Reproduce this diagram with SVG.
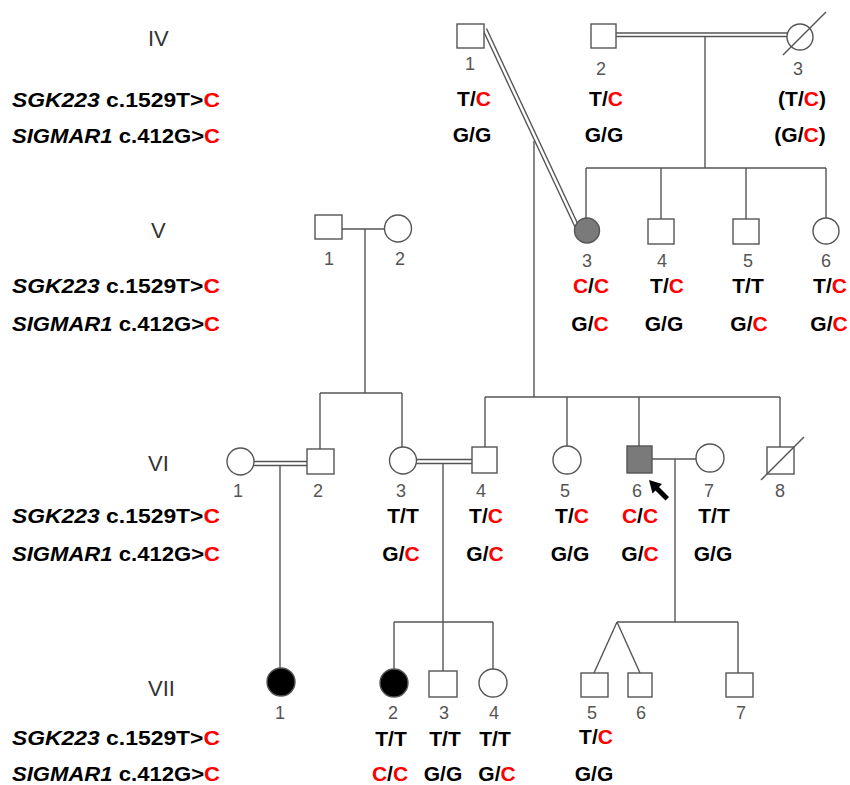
<svg xmlns="http://www.w3.org/2000/svg" width="850" height="785" viewBox="0 0 850 785">
<style>
.ln{stroke:#555;stroke-width:1.4;fill:none}
.sh{stroke:#555;stroke-width:1.4;fill:#fff}
.aff{fill:#7a7a7a}
.blk{fill:#000}
.gen{font-family:"Liberation Sans",Arial,sans-serif;font-size:22px;fill:#333}
.num{font-family:"Liberation Sans",Arial,sans-serif;font-size:18px;fill:#555;text-anchor:middle}
.gt{font-family:"Liberation Sans",Arial,sans-serif;font-size:21px;font-weight:bold;fill:#000;text-anchor:middle}
.lab{font-family:"Liberation Sans",Arial,sans-serif;font-size:21px;font-weight:bold;fill:#000}
.r{fill:#f00}
</style>
<rect width="850" height="785" fill="#fff"/>
<g id="connectors">
<line class="ln" x1="616" y1="33" x2="787" y2="33"/>
<line class="ln" x1="616" y1="36.5" x2="787" y2="36.5"/>
<line class="ln" x1="705" y1="36.5" x2="705" y2="168"/>
<line class="ln" x1="586" y1="168" x2="826" y2="168"/>
<line class="ln" x1="586" y1="168" x2="586" y2="218"/>
<line class="ln" x1="661" y1="168" x2="661" y2="219"/>
<line class="ln" x1="746" y1="168" x2="746" y2="219"/>
<line class="ln" x1="826" y1="168" x2="826" y2="218"/>
<line class="ln" x1="483" y1="30" x2="575" y2="227"/>
<line class="ln" x1="486.5" y1="28.5" x2="578.5" y2="225.5"/>
<line class="ln" x1="534" y1="141" x2="534" y2="397"/>
<line class="ln" x1="485" y1="397" x2="780" y2="397"/>
<line class="ln" x1="485" y1="397" x2="485" y2="447"/>
<line class="ln" x1="567" y1="397" x2="567" y2="446"/>
<line class="ln" x1="639" y1="397" x2="639" y2="446"/>
<line class="ln" x1="780" y1="397" x2="780" y2="447"/>
<line class="ln" x1="342" y1="229" x2="384.5" y2="229"/>
<line class="ln" x1="365" y1="229" x2="365" y2="393"/>
<line class="ln" x1="320" y1="393" x2="402" y2="393"/>
<line class="ln" x1="320" y1="393" x2="320" y2="449"/>
<line class="ln" x1="402" y1="393" x2="402" y2="447"/>
<line class="ln" x1="254" y1="461.5" x2="307" y2="461.5"/>
<line class="ln" x1="254" y1="465.5" x2="307" y2="465.5"/>
<line class="ln" x1="280" y1="465.5" x2="280" y2="668"/>
<line class="ln" x1="416.5" y1="459.5" x2="472" y2="459.5"/>
<line class="ln" x1="416.5" y1="463.5" x2="472" y2="463.5"/>
<line class="ln" x1="443" y1="463.5" x2="443" y2="622"/>
<line class="ln" x1="394" y1="622" x2="493" y2="622"/>
<line class="ln" x1="394" y1="622" x2="394" y2="669"/>
<line class="ln" x1="443" y1="622" x2="443" y2="671"/>
<line class="ln" x1="493" y1="622" x2="493" y2="669"/>
<line class="ln" x1="652" y1="459" x2="696" y2="459"/>
<line class="ln" x1="675" y1="459" x2="675" y2="622"/>
<line class="ln" x1="617" y1="622" x2="738" y2="622"/>
<line class="ln" x1="617" y1="622" x2="594" y2="673"/>
<line class="ln" x1="617" y1="622" x2="640" y2="673"/>
<line class="ln" x1="738" y1="622" x2="738" y2="673"/>
</g>
<g id="gen-labels">
<text class="gen" x="148" y="46">IV</text>
<text class="gen" x="151" y="238">V</text>
<text class="gen" x="148" y="471">VI</text>
<text class="gen" x="148" y="696">VII</text>
</g>
<g id="locus-labels">
<text class="lab" x="12" y="107" textLength="208" lengthAdjust="spacingAndGlyphs"><tspan font-style="italic">SGK223</tspan> c.1529T&gt;<tspan class="r">C</tspan></text>
<text class="lab" x="12" y="143" textLength="208" lengthAdjust="spacingAndGlyphs"><tspan font-style="italic">SIGMAR1</tspan> c.412G&gt;<tspan class="r">C</tspan></text>
<text class="lab" x="12" y="293" textLength="208" lengthAdjust="spacingAndGlyphs"><tspan font-style="italic">SGK223</tspan> c.1529T&gt;<tspan class="r">C</tspan></text>
<text class="lab" x="12" y="331" textLength="208" lengthAdjust="spacingAndGlyphs"><tspan font-style="italic">SIGMAR1</tspan> c.412G&gt;<tspan class="r">C</tspan></text>
<text class="lab" x="12" y="523" textLength="208" lengthAdjust="spacingAndGlyphs"><tspan font-style="italic">SGK223</tspan> c.1529T&gt;<tspan class="r">C</tspan></text>
<text class="lab" x="12" y="561" textLength="208" lengthAdjust="spacingAndGlyphs"><tspan font-style="italic">SIGMAR1</tspan> c.412G&gt;<tspan class="r">C</tspan></text>
<text class="lab" x="12" y="745" textLength="208" lengthAdjust="spacingAndGlyphs"><tspan font-style="italic">SGK223</tspan> c.1529T&gt;<tspan class="r">C</tspan></text>
<text class="lab" x="12" y="781" textLength="208" lengthAdjust="spacingAndGlyphs"><tspan font-style="italic">SIGMAR1</tspan> c.412G&gt;<tspan class="r">C</tspan></text>
</g>
<g id="IV-1"><rect class="sh" x="457" y="24" width="27" height="24"/><text class="num" x="470" y="70">1</text><text class="gt" x="474" y="106">T/<tspan class="r">C</tspan></text><text class="gt" x="472" y="142">G/G</text></g>
<g id="IV-2"><rect class="sh" x="591" y="24" width="25" height="24"/><text class="num" x="601" y="75">2</text><text class="gt" x="606" y="106">T/<tspan class="r">C</tspan></text><text class="gt" x="604" y="142">G/G</text></g>
<g id="IV-3"><circle class="sh" cx="800" cy="37" r="13"/><line class="ln" x1="783" y1="55" x2="826" y2="12"/><text class="num" x="798" y="75">3</text><text class="gt" x="802" y="106">(T/<tspan class="r">C</tspan>)</text><text class="gt" x="800" y="142">(G/<tspan class="r">C</tspan>)</text></g>
<g id="V-1"><rect class="sh" x="315" y="215" width="27" height="24"/><text class="num" x="329" y="265">1</text></g>
<g id="V-2"><circle class="sh" cx="398" cy="228.5" r="13.5"/><text class="num" x="400" y="265">2</text></g>
<g id="V-3"><circle class="sh aff" cx="587" cy="230.5" r="12.5"/><text class="num" x="587" y="267">3</text><text class="gt" x="591" y="293"><tspan class="r">C</tspan>/<tspan class="r">C</tspan></text><text class="gt" x="590" y="331">G/<tspan class="r">C</tspan></text></g>
<g id="V-4"><rect class="sh" x="648" y="219" width="26" height="25"/><text class="num" x="662" y="267">4</text><text class="gt" x="667" y="293">T/<tspan class="r">C</tspan></text><text class="gt" x="664" y="331">G/G</text></g>
<g id="V-5"><rect class="sh" x="733" y="219" width="26" height="25"/><text class="num" x="748" y="267">5</text><text class="gt" x="748" y="293">T/T</text><text class="gt" x="749" y="331">G/<tspan class="r">C</tspan></text></g>
<g id="V-6"><circle class="sh" cx="826" cy="231" r="13"/><text class="num" x="826" y="267">6</text><text class="gt" x="830" y="293">T/<tspan class="r">C</tspan></text><text class="gt" x="829" y="331">G/<tspan class="r">C</tspan></text></g>
<g id="VI-1"><circle class="sh" cx="240.5" cy="461.5" r="13.5"/><text class="num" x="238" y="497">1</text></g>
<g id="VI-2"><rect class="sh" x="307" y="449" width="27" height="25"/><text class="num" x="318" y="497">2</text></g>
<g id="VI-3"><circle class="sh" cx="403" cy="460.5" r="13.5"/><text class="num" x="401" y="497">3</text><text class="gt" x="403" y="523">T/T</text><text class="gt" x="401" y="561">G/<tspan class="r">C</tspan></text></g>
<g id="VI-4"><rect class="sh" x="472" y="447" width="25" height="26"/><text class="num" x="481" y="497">4</text><text class="gt" x="486" y="523">T/<tspan class="r">C</tspan></text><text class="gt" x="485" y="561">G/<tspan class="r">C</tspan></text></g>
<g id="VI-5"><circle class="sh" cx="567" cy="460" r="14"/><text class="num" x="565" y="497">5</text><text class="gt" x="572" y="523">T/<tspan class="r">C</tspan></text><text class="gt" x="570" y="561">G/G</text></g>
<g id="VI-6"><rect class="sh aff" x="627" y="446" width="25" height="27"/><text class="num" x="637" y="497">6</text><polygon class="blk" points="649,480 662,484 659,487 669,497 665.5,500.5 655.5,490.5 652.5,493.5"/><text class="gt" x="640" y="523"><tspan class="r">C</tspan>/<tspan class="r">C</tspan></text><text class="gt" x="640" y="561">G/<tspan class="r">C</tspan></text></g>
<g id="VI-7"><circle class="sh" cx="710" cy="458" r="14"/><text class="num" x="709" y="497">7</text><text class="gt" x="714" y="523">T/T</text><text class="gt" x="713" y="561">G/G</text></g>
<g id="VI-8"><rect class="sh" x="767" y="447" width="27" height="27"/><line class="ln" x1="761" y1="480" x2="804" y2="437"/><text class="num" x="780" y="497">8</text></g>
<g id="VII-1"><circle class="sh blk" cx="281" cy="682" r="14"/><text class="num" x="280" y="719">1</text></g>
<g id="VII-2"><circle class="sh blk" cx="394" cy="683" r="14"/><text class="num" x="393" y="719">2</text><text class="gt" x="391" y="746">T/T</text><text class="gt" x="390" y="781"><tspan class="r">C</tspan>/<tspan class="r">C</tspan></text></g>
<g id="VII-3"><rect class="sh" x="429" y="671" width="28" height="26"/><text class="num" x="444" y="719">3</text><text class="gt" x="445" y="746">T/T</text><text class="gt" x="443" y="781">G/G</text></g>
<g id="VII-4"><circle class="sh" cx="493" cy="683" r="14"/><text class="num" x="494" y="719">4</text><text class="gt" x="495" y="746">T/T</text><text class="gt" x="497" y="781">G/<tspan class="r">C</tspan></text></g>
<g id="VII-5"><rect class="sh" x="581" y="673" width="27" height="24"/><text class="num" x="592" y="719">5</text><text class="gt" x="596" y="744">T/<tspan class="r">C</tspan></text><text class="gt" x="594" y="781">G/G</text></g>
<g id="VII-6"><rect class="sh" x="628" y="673" width="24" height="24"/><text class="num" x="641" y="719">6</text></g>
<g id="VII-7"><rect class="sh" x="726" y="673" width="27" height="24"/><text class="num" x="741" y="719">7</text></g>
</svg>
